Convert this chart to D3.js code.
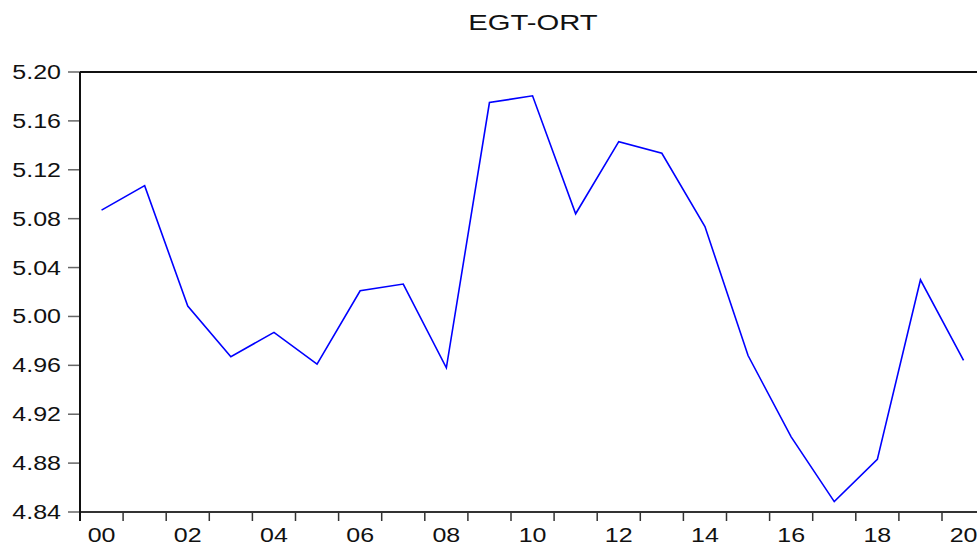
<!DOCTYPE html>
<html>
<head>
<meta charset="utf-8">
<script src="https://cdn.jsdelivr.net/npm/d3@7"></script>
<style>
  html, body { margin: 0; padding: 0; background: #fff; overflow: hidden; }
  svg { display: block; }
  text { font-family: "Liberation Sans", Arial, sans-serif; fill: #111; }
</style>
</head>
<body>
<script>
const title = "EGT-ORT";
const years = ["00","01","02","03","04","05","06","07","08","09","10","11","12","13","14","15","16","17","18","19","20"];
const values = [5.087, 5.107, 5.0085, 4.967, 4.987, 4.961, 5.021, 5.0265, 4.958, 5.175, 5.1805, 5.084, 5.143, 5.1335, 5.0735, 4.968, 4.9015, 4.8485, 4.883, 5.030, 4.964];
const xTickLabels = ["00","02","04","06","08","10","12","14","16","18","20"];
const yTicks = [4.84, 4.88, 4.92, 4.96, 5.00, 5.04, 5.08, 5.12, 5.16, 5.20];

const W = 977, H = 547;
const mLeft = 80, mTop = 72, mBottom = 512;
const bandW = 43.1;
const mRight = mLeft + years.length * bandW;
const sx = 1.25;

const svg = d3.select("body").append("svg").attr("width", W).attr("height", H);

const x = d3.scaleBand().domain(years).range([mLeft, mRight]).padding(0);
const y = d3.scaleLinear().domain([4.84, 5.20]).range([mBottom, mTop]);
const cx = d => x(d) + x.bandwidth() / 2;

// title
svg.append("text")
  .attr("transform", `translate(${533},${30}) scale(1.3,1)`)
  .attr("text-anchor", "middle")
  .style("font-size", "22.5px")
  .text(title);

// y ticks
const gy = svg.append("g");
gy.selectAll("line").data(yTicks).join("line")
  .attr("x1", mLeft - 12).attr("x2", mLeft)
  .attr("y1", d => y(d)).attr("y2", d => y(d))
  .attr("stroke", "#666").attr("stroke-width", 1.5);
gy.selectAll("text").data(yTicks).join("text")
  .attr("transform", d => `translate(${61},${y(d) + 7}) scale(${sx},1)`)
  .attr("text-anchor", "end")
  .style("font-size", "20px")
  .text(d => d.toFixed(2));

// x ticks at band edges
const edges = years.map(d => x(d)).concat([mRight]);
svg.append("g").selectAll("line").data(edges).join("line")
  .attr("x1", d => d).attr("x2", d => d)
  .attr("y1", mBottom).attr("y2", mBottom + 9)
  .attr("stroke", "#333").attr("stroke-width", 1.5);
svg.append("g").selectAll("text").data(xTickLabels).join("text")
  .attr("transform", d => `translate(${cx(d)},${542}) scale(${sx},1)`)
  .attr("text-anchor", "middle")
  .style("font-size", "20px")
  .text(d => d);

// frame
svg.append("line").attr("x1", mLeft).attr("x2", mRight).attr("y1", mTop).attr("y2", mTop)
  .attr("stroke", "#111").attr("stroke-width", 2);
svg.append("line").attr("x1", mLeft).attr("x2", mRight).attr("y1", mBottom).attr("y2", mBottom)
  .attr("stroke", "#333").attr("stroke-width", 2);
svg.append("line").attr("x1", mLeft).attr("x2", mLeft).attr("y1", mTop).attr("y2", mBottom + 9)
  .attr("stroke", "#111").attr("stroke-width", 2);
svg.append("line").attr("x1", mRight).attr("x2", mRight).attr("y1", mTop).attr("y2", mBottom)
  .attr("stroke", "#111").attr("stroke-width", 2);

// series
const line = d3.line().x((d, i) => cx(years[i])).y(d => y(d));
svg.append("path").datum(values)
  .attr("d", line)
  .attr("fill", "none")
  .attr("stroke", "#0000ff")
  .attr("stroke-width", 1.6);
</script>
</body>
</html>
